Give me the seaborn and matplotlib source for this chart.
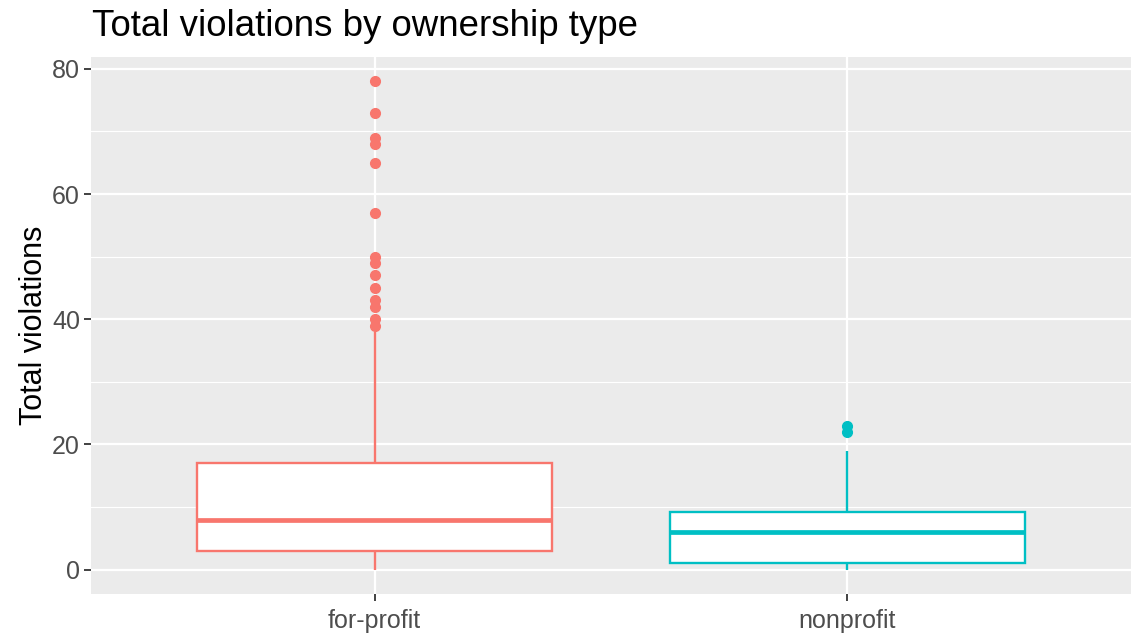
import pandas as pd
import matplotlib.pyplot as plt
import seaborn as sns

# Total violations per facility
for_profit = [0, 0, 0, 0, 1, 1, 1, 1, 1, 2, 2, 2, 2, 2, 2, 3, 3, 3, 3, 3, 3,
              4, 4, 4, 4, 5, 5, 5, 5, 6, 6, 6, 6, 7, 7, 7, 7, 7, 8, 8, 8,
              9, 9, 9, 10, 10, 10, 11, 11, 12, 12, 13, 13, 14, 14, 15, 15, 16, 16, 17, 17,
              19, 22, 25, 29, 33, 38,
              39, 40, 42, 43, 45, 47, 49, 50, 57, 65, 68, 69, 73, 78]
nonprofit = [0, 0, 0, 0, 0, 1, 1, 1, 1, 1, 1,
             2, 2, 3, 3, 4, 4, 5, 5, 6, 6,
             7, 7, 7, 8, 8, 8, 8, 9, 9,
             10, 11, 12, 13, 14, 16, 17, 19,
             22, 23]
categories = ["for-profit", "nonprofit"]
colors = ["#F8766D", "#00BFC4"]

df = pd.DataFrame({
    "ownership": [categories[0]] * len(for_profit) + [categories[1]] * len(nonprofit),
    "total_violations": for_profit + nonprofit,
})

plt.rcParams["font.family"] = ["Liberation Sans", "DejaVu Sans"]

fig = plt.figure(figsize=(11.36, 6.4), dpi=100)
ax = fig.add_axes([91 / 1136, 1 - 594 / 640, (1131 - 91) / 1136, (594 - 57) / 640])
ax.set_facecolor("#EBEBEB")

sns.boxplot(data=df, x="ownership", y="total_violations", order=categories,
            width=0.75, ax=ax, whis=1.5, showcaps=False, linewidth=1.7,
            flierprops=dict(marker="o", markersize=7),
            medianprops=dict(linewidth=3.4))

# ggplot look: white boxes, outline/whiskers/median/outliers in group colour
for i, patch in enumerate(ax.patches):
    patch.set_facecolor("white")
    patch.set_edgecolor(colors[i])
    patch.set_zorder(2)
for ln in ax.lines:
    xd = ln.get_xdata()
    if len(xd) == 0:
        continue
    col = colors[int(round(sum(xd) / len(xd)))]
    ln.set_color(col)
    ln.set_markerfacecolor(col)
    ln.set_markeredgecolor(col)
    ln.set_zorder(3)

ax.set_xlim(-0.6, 1.6)
ax.set_ylim(-3.9, 81.9)
ax.set_yticks([0, 20, 40, 60, 80])
ax.set_yticks([10, 30, 50, 70], minor=True)
ax.set_axisbelow(True)
ax.grid(True, which="major", color="white", lw=1.6)
ax.grid(True, which="minor", axis="y", color="white", lw=0.8)
ax.tick_params(axis="y", which="minor", length=0)

ax.set_xlabel("")
ax.set_ylabel("Total violations", fontsize=22, color="black", labelpad=2)
ax.tick_params(axis="both", which="major", colors="#333333", length=5, width=1.3,
               labelsize=18, labelcolor="#4D4D4D", pad=3)
ax.tick_params(axis="x", pad=6)
for s in ax.spines.values():
    s.set_visible(False)

fig.text(92 / 1136, 1 - 36 / 640, "Total violations by ownership type", fontsize=26.4,
         color="black", ha="left", va="baseline")

fig.savefig("out.png", dpi=100)
